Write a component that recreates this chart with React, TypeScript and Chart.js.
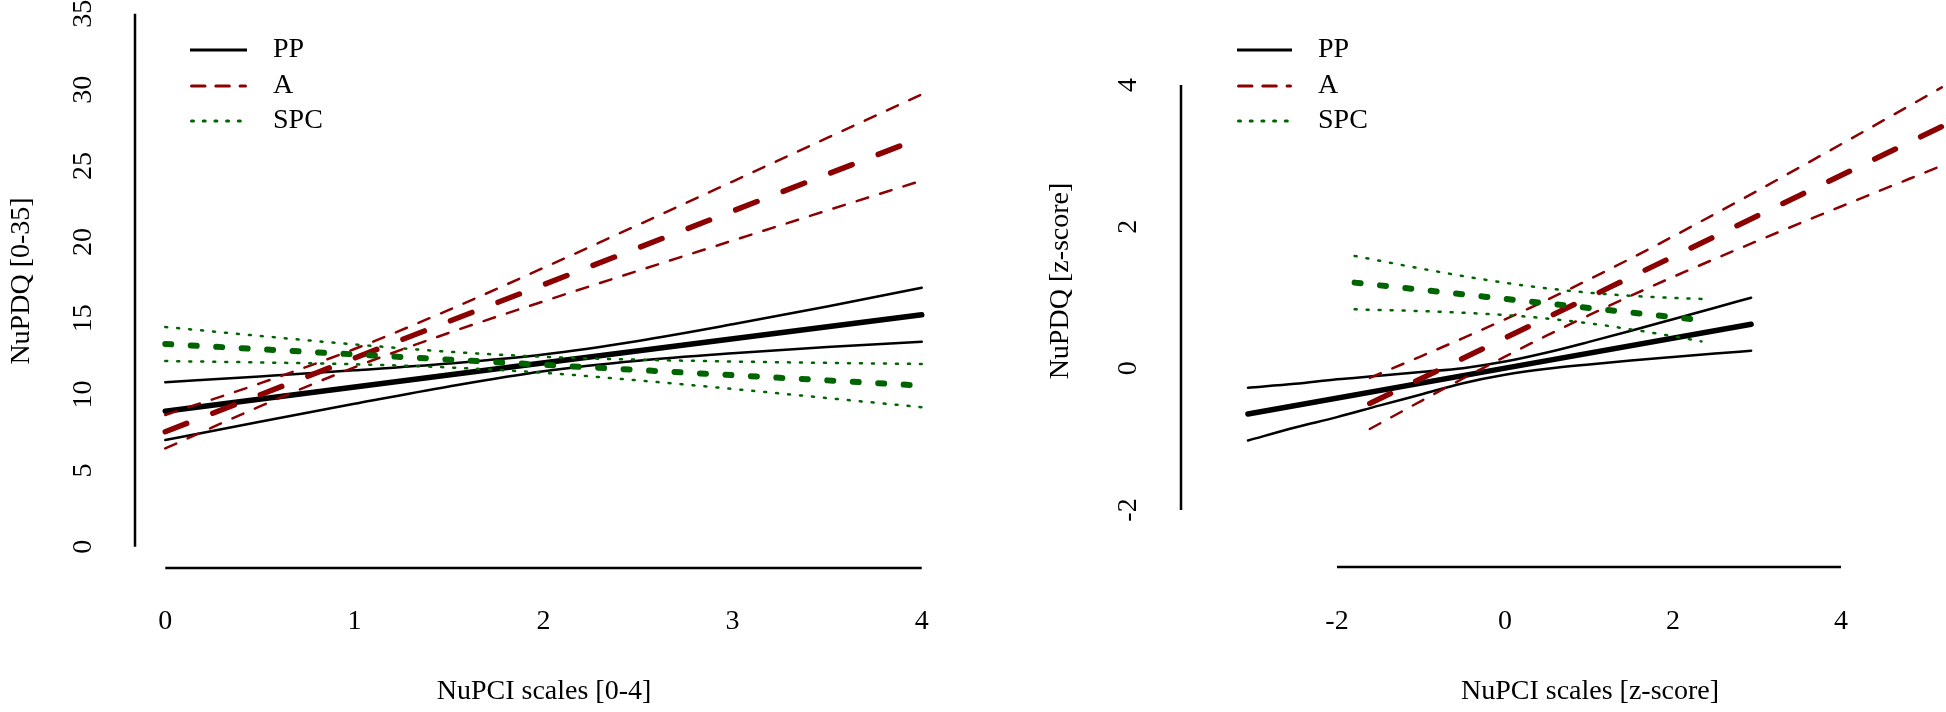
import React, { useEffect, useRef } from "react";
import { Chart, registerables } from "chart.js";

Chart.register(...registerables);

// ---------- Left panel: NuPCI scales [0-4] ----------
const leftXTicks = [0, 1, 2, 3, 4];
const leftYTicks = [0, 5, 10, 15, 20, 25, 30, 35];
const leftMeanX = [0, 4];
const leftPPMean = [8.9, 15.23];
const leftAMean = [7.55, 26.87];
const leftSPCMean = [13.31, 10.58];
const leftBandX = [0, 0.5, 1, 1.5, 2, 2.5, 3, 3.5, 4];
const leftPPUpper = [10.8, 11.18, 11.58, 12.03, 12.62, 13.51, 14.6, 15.77, 17.0];
const leftPPLower = [7.0, 8.2, 9.38, 10.52, 11.52, 12.21, 12.7, 13.11, 13.46];
const leftAUpper = [8.65, 10.72, 12.98, 15.55, 18.31, 21.13, 23.98, 26.84, 29.7];
const leftALower = [6.45, 9.21, 11.78, 14.04, 16.11, 18.12, 20.1, 22.08, 24.04];
const leftSPCUpper = [14.43, 13.84, 13.28, 12.8, 12.47, 12.28, 12.16, 12.07, 12.0];
const leftSPCLower = [12.19, 12.1, 11.98, 11.77, 11.42, 10.92, 10.36, 9.76, 9.16];

// ---------- Right panel: NuPCI scales [z-score] ----------
const rightXTicks = [-2, 0, 2, 4];
const rightYTicks = [-2, 0, 2, 4];
const rightPPMeanX = [-3.06, 2.93];
const rightPPMean = [-0.646, 0.623];
const rightPPBandX = [-3.06, -2.5, -2, -1.5, -1, -0.5, 0, 0.5, 1, 1.5, 2, 2.5, 2.93];
const rightPPUpper = [-0.273, -0.219, -0.155, -0.105, -0.051, 0.002, 0.095, 0.223, 0.373, 0.531, 0.693, 0.856, 0.997];
const rightPPLower = [-1.019, -0.835, -0.689, -0.527, -0.369, -0.21, -0.091, -0.007, 0.055, 0.109, 0.159, 0.208, 0.249];
const rightAMeanX = [-1.61, 5.2];
const rightAMean = [-0.496, 3.413];
const rightABandX = [-1.61, -1, -0.5, 0, 0.5, 1, 1.5, 2, 3, 4, 5.2];
const rightAUpper = [-0.135, 0.17, 0.426, 0.691, 0.966, 1.254, 1.553, 1.862, 2.504, 3.163, 3.966];
const rightALower = [-0.857, -0.462, -0.144, 0.165, 0.464, 0.75, 1.025, 1.29, 1.796, 2.285, 2.86];
const rightSPCMeanX = [-1.79, 2.34];
const rightSPCMean = [1.21, 0.68];
const rightSPCBandX = [-1.79, -1, -0.5, 0, 0.5, 1, 1.5, 2, 2.34];
const rightSPCUpper = [1.587, 1.408, 1.303, 1.208, 1.129, 1.068, 1.024, 0.994, 0.98];
const rightSPCLower = [0.833, 0.808, 0.785, 0.752, 0.703, 0.636, 0.55, 0.452, 0.38];

const legendLabels = ["PP", "A", "SPC"];

// ---------- styles ----------
const BLACK = "#000000";
const RED = "#8B0000";
const GREEN = "#006400";
const FONT = '28px "Liberation Serif", "DejaVu Serif", serif';

const pts = (xs: number[], ys: number[]) => xs.map((x, i) => ({ x, y: ys[i] }));

function ds(label: string, data: any[], color: string, width: number, dash: number[], order: number) {
  return {
    label,
    data,
    borderColor: color,
    backgroundColor: color,
    borderWidth: width,
    borderDash: dash,
    borderCapStyle: "round",
    borderJoinStyle: "round",
    pointRadius: 0,
    pointHoverRadius: 0,
    fill: false,
    tension: 0,
    cubicInterpolationMode: "monotone",
    order,
  };
}

const THIN = 2.5;
const THICK = 5.5;
const RED_THIN_DASH = [12, 12.5];
const RED_THICK_DASH = [23, 28];
const GREEN_THIN_DASH = [2, 10];
const GREEN_THICK_DASH = [6, 19.5];

const legendStyles = [
  { color: BLACK, dash: [] as number[] },
  { color: RED, dash: [13.5, 10.8] },
  { color: GREEN, dash: [2, 9.7] },
];

interface Decor {
  xTicks: number[];
  yTicks: number[];
  xTitle: string;
  yTitle: string;
  yTickX: number;
  yTitleX: number;
  titleCenterY: number;
  xTitleX: number;
  xTickY: number;
  xTitleY: number;
  legendX0: number;
  legendX1: number;
  legendTextX: number;
  legendY: number[];
}

function decorPlugin(d: Decor) {
  return {
    id: "rdecor",
    afterDraw(chart: any) {
      const ctx = chart.ctx;
      const xs = chart.scales.x;
      const ys = chart.scales.y;
      const area = chart.chartArea;
      ctx.save();
      // axis lines
      ctx.strokeStyle = BLACK;
      ctx.lineWidth = 2.5;
      ctx.setLineDash([]);
      ctx.lineCap = "butt";
      ctx.beginPath();
      ctx.moveTo(area.left, ys.getPixelForValue(d.yTicks[0]));
      ctx.lineTo(area.left, ys.getPixelForValue(d.yTicks[d.yTicks.length - 1]));
      ctx.stroke();
      ctx.beginPath();
      ctx.moveTo(xs.getPixelForValue(d.xTicks[0]), area.bottom);
      ctx.lineTo(xs.getPixelForValue(d.xTicks[d.xTicks.length - 1]), area.bottom);
      ctx.stroke();

      ctx.fillStyle = BLACK;
      ctx.font = FONT;
      // x tick labels
      ctx.textAlign = "center";
      ctx.textBaseline = "middle";
      d.xTicks.forEach((t) => {
        ctx.fillText(String(t), xs.getPixelForValue(t), d.xTickY);
      });
      // x title
      ctx.fillText(d.xTitle, d.xTitleX, d.xTitleY);
      // y tick labels (rotated)
      d.yTicks.forEach((t) => {
        ctx.save();
        ctx.translate(d.yTickX, ys.getPixelForValue(t));
        ctx.rotate(-Math.PI / 2);
        ctx.fillText(String(t), 0, 0);
        ctx.restore();
      });
      // y title
      ctx.save();
      ctx.translate(d.yTitleX, d.titleCenterY);
      ctx.rotate(-Math.PI / 2);
      ctx.fillText(d.yTitle, 0, 0);
      ctx.restore();

      // legend
      legendLabels.forEach((lab, i) => {
        const st = legendStyles[i];
        const y = d.legendY[i];
        ctx.strokeStyle = st.color;
        ctx.lineWidth = 3;
        ctx.lineCap = st.dash.length ? "round" : "butt";
        ctx.setLineDash(st.dash);
        ctx.beginPath();
        ctx.moveTo(d.legendX0 + (st.dash.length ? 1.5 : 0), y);
        ctx.lineTo(d.legendX1 - (st.dash.length ? 1.5 : 0), y);
        ctx.stroke();
        ctx.setLineDash([]);
        ctx.textAlign = "left";
        ctx.fillStyle = BLACK;
        ctx.fillText(lab, d.legendTextX, y);
      });
      ctx.restore();
    },
  };
}

function useChart(ref: React.RefObject<HTMLCanvasElement>, build: () => any) {
  useEffect(() => {
    if (!ref.current) return;
    const chart = new Chart(ref.current, build());
    return () => chart.destroy();
  }, []);
}

function leftConfig() {
  const datasets = [
    ds("SPC", pts(leftMeanX, leftSPCMean), GREEN, 6, GREEN_THICK_DASH, 1),
    ds("SPC upper", pts(leftBandX, leftSPCUpper), GREEN, THIN, GREEN_THIN_DASH, 2),
    ds("SPC lower", pts(leftBandX, leftSPCLower), GREEN, THIN, GREEN_THIN_DASH, 3),
    ds("A", pts(leftMeanX, leftAMean), RED, THICK, RED_THICK_DASH, 4),
    ds("A upper", pts(leftBandX, leftAUpper), RED, THIN, RED_THIN_DASH, 5),
    ds("A lower", pts(leftBandX, leftALower), RED, THIN, RED_THIN_DASH, 6),
    ds("PP", pts(leftMeanX, leftPPMean), BLACK, THICK, [], 7),
    ds("PP upper", pts(leftBandX, leftPPUpper), BLACK, THIN, [], 8),
    ds("PP lower", pts(leftBandX, leftPPLower), BLACK, THIN, [], 9),
  ];
  return {
    type: "line",
    data: { datasets },
    options: {
      responsive: false,
      animation: false,
      devicePixelRatio: 1,
      events: [],
      layout: { padding: { left: 135, right: 21, top: 0, bottom: 144 } },
      scales: {
        x: { type: "linear", min: -0.16, max: 4.16, display: false },
        y: { type: "linear", min: -1.4, max: 35.9, display: false },
      },
      plugins: { legend: { display: false }, tooltip: { enabled: false } },
    },
    plugins: [
      decorPlugin({
        xTicks: leftXTicks,
        yTicks: leftYTicks,
        xTitle: "NuPCI scales [0-4]",
        yTitle: "NuPDQ [0-35]",
        yTickX: 84,
        yTitleX: 22,
        titleCenterY: 281,
        xTitleX: 544,
        xTickY: 622,
        xTitleY: 692,
        legendX0: 190,
        legendX1: 247,
        legendTextX: 273,
        legendY: [50, 86, 121],
      }),
    ],
  };
}

function rightConfig() {
  const datasets = [
    ds("SPC", pts(rightSPCMeanX, rightSPCMean), GREEN, 6, GREEN_THICK_DASH, 1),
    ds("SPC upper", pts(rightSPCBandX, rightSPCUpper), GREEN, THIN, GREEN_THIN_DASH, 2),
    ds("SPC lower", pts(rightSPCBandX, rightSPCLower), GREEN, THIN, GREEN_THIN_DASH, 3),
    ds("A", pts(rightAMeanX, rightAMean), RED, THICK, RED_THICK_DASH, 4),
    ds("A upper", pts(rightABandX, rightAUpper), RED, THIN, RED_THIN_DASH, 5),
    ds("A lower", pts(rightABandX, rightALower), RED, THIN, RED_THIN_DASH, 6),
    ds("PP", pts(rightPPMeanX, rightPPMean), BLACK, THICK, [], 7),
    ds("PP upper", pts(rightPPBandX, rightPPUpper), BLACK, THIN, [], 8),
    ds("PP lower", pts(rightPPBandX, rightPPLower), BLACK, THIN, [], 9),
  ];
  return {
    type: "line",
    data: { datasets },
    options: {
      responsive: false,
      animation: false,
      devicePixelRatio: 1,
      events: [],
      layout: { padding: { left: 208, right: 0, top: 0, bottom: 145 } },
      scales: {
        x: { type: "linear", min: -3.857, max: 5.25, display: false },
        y: { type: "linear", min: -2.805, max: 5.2, display: false },
      },
      plugins: { legend: { display: false }, tooltip: { enabled: false } },
    },
    plugins: [
      decorPlugin({
        xTicks: rightXTicks,
        yTicks: rightYTicks,
        xTitle: "NuPCI scales [z-score]",
        yTitle: "NuPDQ [z-score]",
        yTickX: 156,
        yTitleX: 88,
        titleCenterY: 281,
        xTitleX: 617,
        xTickY: 622,
        xTitleY: 692,
        legendX0: 264,
        legendX1: 319,
        legendTextX: 345,
        legendY: [50, 86, 121],
      }),
    ],
  };
}

export default function App() {
  const leftRef = useRef<HTMLCanvasElement>(null);
  const rightRef = useRef<HTMLCanvasElement>(null);
  useChart(leftRef, leftConfig);
  useChart(rightRef, rightConfig);
  return (
    <div
      style={{
        position: "fixed",
        left: 0,
        top: 0,
        width: 1946,
        height: 712,
        background: "#ffffff",
        overflow: "hidden",
      }}
    >
      <canvas
        ref={leftRef}
        width={973}
        height={712}
        style={{ position: "absolute", left: 0, top: 0, width: 973, height: 712 }}
      />
      <canvas
        ref={rightRef}
        width={973}
        height={712}
        style={{ position: "absolute", left: 973, top: 0, width: 973, height: 712 }}
      />
    </div>
  );
}
